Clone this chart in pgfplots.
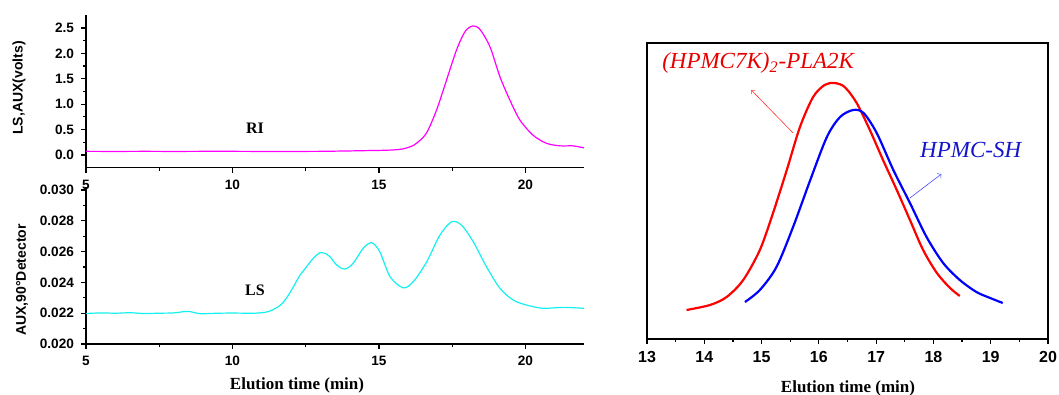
\documentclass[border=0pt]{standalone}
\usepackage{pgfplots}
\pgfplotsset{compat=1.18}
\usepackage{fontspec}
\setmainfont{Liberation Serif}
\setsansfont{Liberation Sans}
\definecolor{mag}{RGB}{255,0,255}
\definecolor{cy}{RGB}{20,240,240}
\definecolor{rtxt}{RGB}{230,0,0}
\definecolor{btxt}{RGB}{20,20,200}
\begin{document}
\begin{tikzpicture}
\path[use as bounding box] (0,0) rectangle (529.5pt,197.5pt);
\pgfplotsset{
  leftax/.style={
    scale only axis, width=249pt,
    axis x line*=bottom, axis y line*=left,
    xmin=5, xmax=22, xtick={5,10,15,20},
    minor x tick num=1, minor y tick num=1,
    tick align=outside, major tick length=2.5pt, minor tick length=1.5pt,
    tick style={black, line width=0.6pt},
    axis line style={line width=0.7pt, black},
    ticklabel style={font=\sffamily\bfseries\fontsize{6.8}{8}\selectfont},
    /pgf/number format/assume math mode=true,
    scaled y ticks=false,
    clip=false,
  }
}
% ---------- top left (RI) ----------
\begin{axis}[leftax, at={(43pt,113.65pt)}, anchor=south west, height=76.2pt,
  ymin=-0.25, ymax=2.75, ytick={0,0.5,1,1.5,2,2.5},
  y tick label style={/pgf/number format/fixed, /pgf/number format/fixed zerofill, /pgf/number format/precision=1}]
\addplot[mag, line width=0.6pt, smooth] coordinates {
(5,0.072)(6,0.07)(7,0.072)(8,0.07)(9,0.072)(10,0.072)(11,0.07)(12,0.07)(13,0.072)(14,0.08)(14.45,0.085)(15,0.09)(15.5,0.1)(15.82,0.12)
(16.1,0.17)(16.28,0.23)(16.62,0.43)(16.97,0.89)(17.31,1.48)(17.65,2.07)(17.94,2.43)
(18.2,2.54)(18.45,2.47)(18.79,2.13)(19.13,1.54)(19.47,1.08)(19.81,0.69)(20.26,0.39)
(20.72,0.23)(21.18,0.18)(21.62,0.18)(22.0,0.14)};
\node[font=\bfseries\fontsize{8}{9}\selectfont] at (axis cs:10.77,0.53) {RI};
\end{axis}
% ---------- bottom left (LS) ----------
\begin{axis}[leftax, at={(43pt,25.5pt)}, anchor=south west, height=78.5pt,
  ymin=0.020, ymax=0.0302, ytick={0.020,0.022,0.024,0.026,0.028,0.030},
  y tick label style={/pgf/number format/fixed, /pgf/number format/fixed zerofill, /pgf/number format/precision=3}]
\addplot[cy, line width=0.6pt, smooth] coordinates {
(5,0.02198)(5.5,0.02202)(6,0.022)(6.5,0.02203)(7,0.02198)(7.5,0.022)(8,0.02202)(8.48,0.02212)
(8.9,0.02197)(9.5,0.022)(10,0.02201)(10.6,0.022)(10.94,0.02202)(11.25,0.02212)
(11.62,0.0225)(11.85,0.023)(12.08,0.02372)(12.3,0.02445)(12.53,0.02502)(12.75,0.02555)(12.99,0.02593)(13.2,0.02585)
(13.33,0.02567)(13.56,0.02513)(13.84,0.02487)(14.12,0.02524)(14.46,0.02621)(14.75,0.02658)
(15.03,0.02599)(15.38,0.02437)(15.83,0.02365)(16.17,0.02404)(16.63,0.02534)(17.08,0.02707)
(17.48,0.02794)(17.82,0.02772)(18.22,0.02664)(18.67,0.02502)(19.13,0.02362)(19.58,0.02286)
(20.04,0.02253)(20.6,0.02232)(21.29,0.02238)(22.0,0.02232)};
\node[font=\bfseries\fontsize{8}{9}\selectfont] at (axis cs:10.77,0.0235) {LS};
\end{axis}
\node[rotate=90, font=\sffamily\bfseries\fontsize{7}{8}\selectfont] at (9.5pt,153.5pt) {LS,AUX(volts)};
\node[rotate=90, font=\sffamily\bfseries\fontsize{7}{8}\selectfont] at (11pt,57.5pt) {AUX,90°Detector};
\node[anchor=base, font=\bfseries\fontsize{8.5}{10}\selectfont] at (148.5pt,2.5pt) {Elution time (min)};
% ---------- right ----------
\begin{axis}[at={(323.5pt,28pt)}, anchor=south west, scale only axis,
  width=200.5pt, height=148pt,
  xmin=13, xmax=20, ymin=0, ymax=296,
  xtick={13,...,20}, ytick=\empty, xtick pos=bottom,
  minor x tick num=1,
  tick align=outside, major tick length=2.5pt, minor tick length=1.5pt,
  tick style={black, line width=0.6pt},
  axis line style={line width=0.7pt, black},
  ticklabel style={font=\sffamily\bfseries\fontsize{8}{9}\selectfont},
  /pgf/number format/assume math mode=true,
  clip=false]
\addplot[red, line width=1.1pt, smooth] coordinates {
(13.69,29)(14.10,34)(14.39,42)(14.68,59)(14.97,89)(15.20,126)(15.44,169)(15.67,212)
(15.90,242)(16.10,254)(16.27,256)(16.45,252)(16.66,236)(16.89,209)(17.12,179)(17.36,149)
(17.59,119)(17.82,89)(18.06,66)(18.29,51)(18.46,43)};
\addplot[blue, line width=1.1pt, smooth] coordinates {
(14.71,37)(14.97,49)(15.26,72)(15.55,112)(15.85,159)(16.14,202)(16.37,222)(16.60,229)
(16.78,226)(17.01,206)(17.30,169)(17.59,136)(17.88,102)(18.17,76)(18.46,59)(18.75,47)
(18.99,41)(19.21,36)};
\draw[red!80, line width=0.3pt, ->] (axis cs:15.55,206) -- (axis cs:14.82,249);
\draw[blue!70, line width=0.3pt, ->] (axis cs:17.59,141) -- (axis cs:18.14,165);
\node[rtxt, font=\itshape\fontsize{11.5}{13}\selectfont] at (axis cs:14.94,276) {(HPMC7K)\textsubscript{2}-PLA2K};
\node[btxt, font=\itshape\fontsize{11.5}{13}\selectfont] at (axis cs:18.65,189) {HPMC-SH};
\end{axis}
\node[anchor=base, font=\bfseries\fontsize{8.5}{10}\selectfont] at (424pt,1.2pt) {Elution time (min)};
\end{tikzpicture}
\end{document}
